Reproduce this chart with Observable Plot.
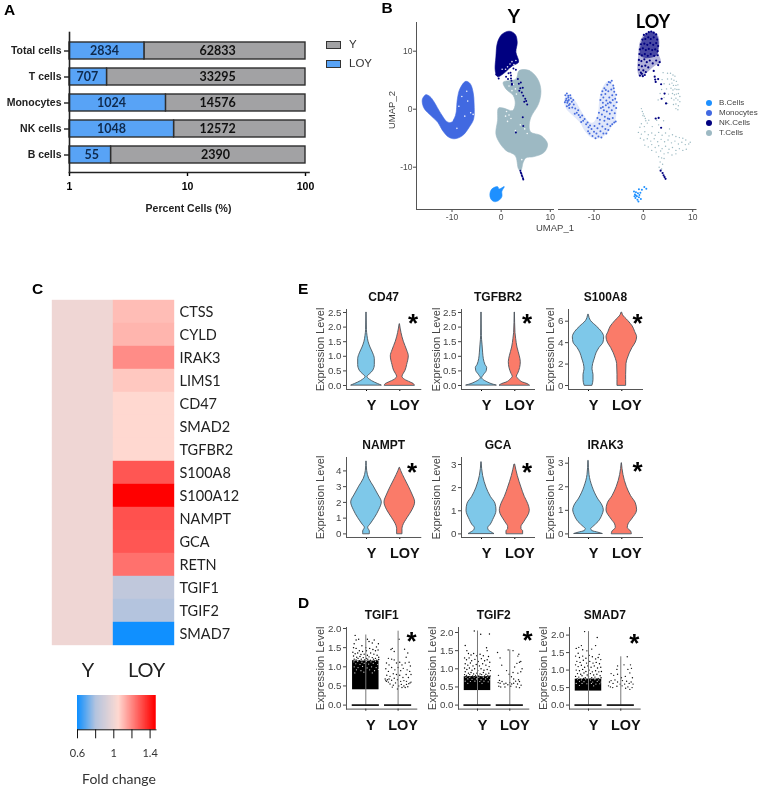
<!DOCTYPE html>
<html>
<head>
<meta charset="utf-8">
<script src="https://cdn.jsdelivr.net/npm/d3@7"></script>
<script src="https://cdn.jsdelivr.net/npm/@observablehq/plot@0.6"></script>
<style>
html,body{margin:0;padding:0;background:#fff;width:760px;height:789px;overflow:hidden}
#page{position:relative;width:760px;height:789px;overflow:hidden;filter:blur(0.35px)}
#page svg{position:absolute;background:transparent}
.t{position:absolute;white-space:nowrap;line-height:1}
</style>
</head>
<body>
<div id="page"></div>
<script>
/* ---------- Panel A ---------- */
const cellTypes = ["Total cells","T cells","Monocytes","NK cells","B cells"];
const loyCounts = [2834,707,1024,1048,55];
const yCounts = [62833,33295,14576,12572,2390];
const loyLabelAt = [1.98,1.42,2.27,2.27,1.54];
const yLabelAt = [18,18,18,18,17.3];

/* ---------- Panel B (UMAP outlines and cells, in UMAP units) ---------- */
const monoOutline = [[-16,1.8],[-15.3,2.5],[-14.5,2.2],[-13.6,1.2],[-13,0.3],[-12,-1.1],[-11.1,-2.1],[-10.2,-2.3],[-9.3,-1.1],[-8.9,1.8],[-8.4,3.5],[-7.2,4.8],[-6.3,4.4],[-5.7,2.9],[-5.5,0.9],[-5.6,-1.7],[-6.5,-3.1],[-7.85,-4.55],[-9.5,-5.1],[-10.7,-4.8],[-11.9,-3.7],[-12.9,-2.25],[-14.3,-1.1],[-15.6,0.05],[-16,0.9]];
const nkOutline = [[-0.73,11.55],[0.15,12.9],[1.64,13.45],[2.86,12.9],[3.27,11.55],[3,9.85],[3.54,8.1],[2.32,7.5],[0.42,6.1],[-0.73,5.6],[-1.2,6.65],[-1.07,9]];
const nkLoyCore = [[-0.7,10.3],[0,12.4],[1.6,13.4],[2.8,12.6],[3.1,10.5],[2.6,9.2],[0.5,8.8],[-0.6,9.2]];
const tOutline = [[3.68,6.67],[5.71,6.67],[7.41,5.23],[8.09,3.22],[7.61,0.92],[6.05,-1.39],[5.71,-3.11],[6.05,-3.97],[8.09,-4.55],[9.44,-5.99],[8.76,-7.42],[6.73,-8.17],[5.03,-8.4],[4.49,-9.15],[4,-10.6],[3.54,-10.3],[2.86,-8],[0.97,-7.1],[-0.39,-5.7],[-1.07,-4.26],[-0.73,-1.96],[-0.53,0.2],[0.42,0.2],[2.32,-0.24],[2.86,0.92],[2.46,2.35],[0.97,3.5],[0.42,4.65],[3,5.2]];
const bOutline = [[-2.29,-14.6],[-1.88,-13.75],[-0.73,-13.35],[-0.39,-13.75],[0.63,-13.35],[0.15,-14.15],[0.15,-15.07],[-0.53,-15.76],[-1.41,-15.93],[-2.09,-15.47]];
const nkStrayY = [[1.9,6.3],[2,5.8],[2,5.3],[2.1,4.9],[2.2,4.4],[2.2,4.2],[3.4,5.2],[3.6,4.4],[3.9,3.6],[3.7,3.2],[4.2,2.9],[4.5,2.3],[4.9,1.8],[4.7,1.3],[5.1,1.4],[5.3,0.8],[4.4,3.7],[4,4.6],[4.4,-1.4],[4.5,-2.9],[3,-4],[2.5,7],[3,6.8],[1.5,6.2],[1,5.6],[1.4,5.2],[-0.5,5.3],[-1,6],[3.9,-10.6],[4,-10.9],[4.1,-11.1],[4.2,-11.4],[4.3,-11.6],[4.45,-11.9],[4.5,-12.1]];
const holesY = [[1.8,7.8],[2.2,8.2],[2.6,7.7],[1.3,7.3],[1.7,6.9],[0.9,6.9],[3,8.4],[0.2,6.9],[2.5,4.3],[2.9,3.5],[1.6,4],[2.2,3.2],[3.1,2.6],[1.1,-0.4],[1.6,-1],[0.9,-1.2],[2,-1.6],[1.3,-2.1],[2.9,-3.7],[4.8,-3.4],[5.3,-4.2],[3.9,-2.7],[-10,-2],[-8.6,0.5],[-8,2.2],[-7.4,-1.2],[-6.8,1.4],[-6.2,-0.6],[-9,-3.3],[-7,3.1],[-5.7,-0.9],[4.2,-8.7]];
const monoLoy = [[-15.8,2.4],[-15.5,2.7],[-15.2,2.3],[-15.6,1.8],[-15.1,1.6],[-14.7,1.9],[-15.9,1.2],[-15.4,1.1],[-14.9,0.9],[-14.5,1.3],[-15.5,0.5],[-15,0.2],[-14.4,0.3],[-14.1,0.8],[-15.2,2],[-14.8,2.4],[-14.2,1.6],[-15.7,1.5],[-15.3,1.4],[-15.1,0.7],
[-13.8,0.1],[-13.5,-0.6],[-13.2,-0.2],[-13.1,-1],[-12.8,-1.4],[-12.4,-1.1],[-12.2,-2],[-11.9,-1.7],[-11.6,-2.6],[-11.3,-2.3],[-11.1,-3.1],[-10.8,-2.8],[-13.9,-0.8],[-12.6,-2.2],
[-11.2,-3.8],[-10.9,-4.2],[-10.5,-3.4],[-10.3,-4.6],[-10,-3.9],[-9.9,-2.9],[-9.7,-5],[-9.5,-4.2],[-9.3,-3.3],[-9.1,-4.7],[-8.9,-2.5],[-8.7,-3.8],[-8.5,-4.9],[-8.3,-3],[-8.1,-4.2],[-7.9,-2],[-7.7,-3.4],[-7.5,-4.2],[-7.3,-2.6],[-7.1,-3.6],[-6.9,-1.7],[-6.7,-2.9],
[-9.3,-1.5],[-9,-0.6],[-8.8,-1.8],[-8.6,0.2],[-8.4,-0.9],[-8.2,1.1],[-8,-0.2],[-7.8,-1.3],[-7.6,0.7],[-7.4,-0.4],[-7.2,-1.6],[-7,0.3],[-6.8,-0.8],[-6.6,1.1],[-6.4,-0.2],[-6.2,-1.5],[-6,0.6],[-5.8,-0.7],[-5.6,-2.1],[-5.5,0.2],[-6.3,-2.6],[-5.9,-2.3],
[-8.7,1.6],[-8.5,2.5],[-8.3,3.1],[-8.1,2],[-7.9,3.6],[-7.7,2.6],[-7.5,1.5],[-7.3,4.2],[-7.1,3.1],[-6.9,2],[-6.7,4.6],[-6.5,3.4],[-6.3,2.4],[-6.1,4.1],[-5.9,3],[-5.7,1.8],[-5.5,2.5],[-7,4.7],[-6.4,4.9],[-6,3.6],[-7.6,3.3],[-6.8,1.2],[-5.4,1.2],[-8.2,0.4],[-7.2,1],[-6.2,1.6]];
const nkLoy = [[0.1,12.8],[0.6,13],[1.1,13.3],[1.6,13.4],[2.1,13.2],[2.6,12.9],[-0.2,12],[0.4,12.1],[1,12.4],[1.5,12.1],[2.1,12.4],[2.8,12],[-0.5,11.2],[0.2,11.3],[0.8,11.1],[1.4,11.4],[2,11.1],[2.6,11.4],[3,10.9],[-0.7,10.3],[-0.1,10.5],[0.5,10.2],[1.1,10.4],[1.8,10.2],[2.4,10.3],[2.9,10],
[-0.8,9.5],[-0.3,9.3],[0.3,9.5],[0.9,9.2],[1.5,9.5],[2.2,9.2],[2.9,9.3],[-0.9,8.5],[-0.4,8.3],[0.2,8.6],[0.7,8.1],[1.3,8.4],[1.9,7.9],[2.6,8.4],[3.3,8.1],[-0.9,7.6],[-0.3,7.4],[0.4,7.5],[1,7.2],[3,7.6],[-0.9,6.8],[-0.5,6.3],[0,6.7],[0.5,6.4],[-0.7,5.8],[-0.1,5.7],[0.3,5.9],[-0.3,6.1],[2.1,6.6],[2.3,5.6],[2.5,4.7],[2.4,5.1],[3,5.2],[3.6,4.3],[4.3,2.7],[3.7,1.8],[4.6,1],[2.5,-1.6],[3.1,-1.5],[3.6,-3.2],[3.5,-10.6],[3.9,-11],[4.1,-11.4],[4.3,-11.7],[4.5,-12]];
const tLoy = [[4,6.3],[4.9,6.2],[5.5,6.2],[6,5.9],[6.4,5.7],[3.8,5.1],[4.9,5.2],[5.7,5.2],[6.2,5],[6.7,4.8],[4.2,4.4],[5.3,4.3],[5.8,4.5],[6.1,4.1],[6.6,4.1],[7,4.2],[3.7,3.4],[4.7,3.5],[5.6,3.6],[6,3.3],[6.4,3.5],[6.8,3.4],[7.2,3.4],[3.4,2.7],[4.2,2],[5.1,2.6],[5.9,2.7],[6.3,2.5],[6.7,2.6],[7.1,2.7],[7.4,2.2],[3,1.6],[4.9,1],[5.7,1.9],[6.2,1.6],[6.6,1.9],[7,1.6],[7.4,1.3],[6.1,0.8],[6.6,0.9],[7.1,0.6],[6.6,0.1],[7,-0.1],
[-0.4,0.1],[-0.2,-0.4],[0,-0.8],[0.2,-1.2],[0.4,-1.6],[-0.1,-1.1],[0.5,-2],[0.8,-2.4],[-0.4,-2.5],[-0.7,-3.1],[0.2,-3],[1.1,-1.9],[1.8,-3],[2.7,-1.9],[3.1,-2.7],[4.1,-2],[5.3,-3.4],[-1,-4],[-0.4,-4.3],[0.3,-3.9],[1,-4.4],[1.7,-4.1],[2.4,-4.5],[3.1,-4],[3.8,-4.5],[4.5,-4.1],[5.2,-4.6],[5.9,-4.4],[6.6,-4.7],[7.3,-4.9],[8,-5],[8.6,-5.3],[-0.6,-5],[0.1,-5.3],[0.8,-5.1],[1.5,-5.5],[2.2,-5.1],[2.9,-5.6],[3.6,-5.2],[4.3,-5.6],[5,-5.3],[5.7,-5.8],[6.4,-5.5],[7.1,-6],[7.8,-5.7],[8.5,-6.1],[9.2,-6],[9.5,-5.7],[0.3,-6.2],[1,-6.5],[1.7,-6.1],[2.4,-6.6],[3.1,-6.3],[3.8,-6.8],[4.5,-6.4],[5.2,-6.9],[5.9,-6.6],[6.6,-7.1],[7.3,-6.8],[8,-7.1],[8.7,-6.9],[1.7,-7.1],[2.6,-7.4],[3.5,-7.2],[4.2,-7.7],[5,-7.5],[5.8,-7.9],[6.6,-7.7],[3.1,-8.2],[3.7,-8.4],[4.2,-8.5],[3.4,-9.1],[3.9,-9.5],[3.2,-10],[3.7,-10.3]];
const bLoy = [[-1.9,-14.2],[-1.7,-14.7],[-1.5,-14.3],[-1.3,-15],[-1.1,-14.5],[-1.6,-15.3],[-1.2,-15.6],[-0.9,-15.2],[-1.5,-14.9],[-1,-15.9],[-0.8,-14.8],[-0.6,-14.4],[-1.8,-15],[-0.9,-13.8],[-0.3,-13.9],[0.2,-13.4],[0.6,-13.7],[-0.5,-15.5]];
const bLegend = ["B.Cells","Monocytes","NK.Cells","T.Cells"];
const bLegendColors = ["#1e90ff","#4169e1","#000080","#9db9c3"];

/* ---------- Panel C ---------- */
const genes = ["CTSS","CYLD","IRAK3","LIMS1","CD47","SMAD2","TGFBR2","S100A8","S100A12","NAMPT","GCA","RETN","TGIF1","TGIF2","SMAD7"];
const foldY = [1,1,1,1,1,1,1,1,1,1,1,1,1,1,1];
const foldLoy = [1.1,1.115,1.19,1.08,1.05,1.05,1.05,1.29,1.45,1.3,1.29,1.24,0.84,0.8,0.6];

/* ---------- Panel E violins: [expression level, half width] ---------- */
const cd47Y = [[0,.45],[.05,.35],[.1,.25],[.2,.1],[.29,.03],[.4,.12],[.5,.2],[.7,.25],[.9,.25],[1.1,.2],[1.3,.12],[1.5,.06],[1.7,.03],[1.9,.012],[2.5,.004]];
const cd47L = [[0,.45],[.05,.42],[.1,.33],[.2,.15],[.3,.08],[.4,.12],[.5,.17],[.7,.22],[1,.27],[1.2,.22],[1.5,.12],[1.8,.05],[2.1,.005]];
const tgfY = [[0,.45],[.05,.3],[.1,.2],[.2,.05],[.25,.02],[.35,.07],[.5,.16],[.6,.17],[.7,.12],[.9,.07],[1.1,.05],[1.4,.03],[1.7,.01],[2.5,.004]];
const tgfL = [[0,.45],[.05,.38],[.1,.25],[.2,.13],[.3,.06],[.4,.1],[.6,.16],[.8,.18],[1,.15],[1.3,.08],[1.6,.04],[1.8,.02],[2.5,.004]];
const s100Y = [[0,.12],[.5,.15],[1,.15],[1.5,.12],[2,.14],[2.5,.19],[3,.24],[3.5,.33],[4,.45],[4.5,.47],[5,.4],[5.5,.25],[6,.08],[6.6,.01]];
const s100L = [[0,.13],[1,.13],[2,.14],[2.5,.18],[3,.24],[3.5,.32],[4,.42],[4.5,.46],[5,.4],[5.5,.33],[6,.2],[6.6,.03],[6.8,.01]];
const namptY = [[0,.1],[.15,.1],[.38,.05],[.6,.12],[1,.25],[1.5,.38],[2,.46],[2.5,.35],[3,.22],[3.5,.08],[4,.02],[4.6,.004]];
const namptL = [[0,.08],[.3,.08],[.5,.1],[1,.23],[1.5,.38],[2,.46],[2.5,.38],[3,.27],[3.5,.15],[4,.04],[4.2,.005]];
const gcaY = [[0,.38],[.07,.3],[.15,.22],[.25,.2],[.4,.28],[.6,.35],[1,.45],[1.3,.42],[1.6,.28],[2,.15],[2.5,.05],[3.1,.004]];
const gcaL = [[0,.25],[.12,.25],[.2,.2],[.3,.2],[.5,.28],[1,.45],[1.3,.4],[1.6,.3],[2,.2],[2.5,.09],[3,.01]];
const irakY = [[0,.42],[.05,.3],[.12,.12],[.2,.08],[.3,.15],[.5,.3],[.8,.42],[1,.46],[1.2,.42],[1.5,.28],[2,.12],[2.5,.03],[3.1,.004]];
const irakL = [[0,.3],[.1,.28],[.25,.18],[.4,.2],[.6,.3],[1,.46],[1.3,.42],[1.6,.28],[2,.15],[2.5,.05],[3,.004]];

/* ---------- Panel D strips: [offset from group centre, expression level] ---------- */
const tgif1Y = [[-.33,1.82],[-.3,1.7],[-.36,1.6],[-.22,1.72],[-.12,1.55],[0,1.5],[.05,1.72],[.1,1.66],[.2,1.62],[.26,1.7],[.33,1.52],[.39,1.6],[-.38,1.5],[-.3,1.48],[-.2,1.42],[-.1,1.4],[.02,1.42],[.12,1.48],[.22,1.45],[.3,1.42],[.38,1.44],[-.4,1.38],[-.33,1.34],[-.25,1.36],[-.15,1.32],[-.05,1.33],[.05,1.3],[.15,1.36],[.25,1.33],[.35,1.3],[-.38,1.28],[-.28,1.25],[-.18,1.27],[-.08,1.24],[.02,1.22],[.1,1.26],[.2,1.24],[.3,1.22],[.4,1.25],[-.36,1.2],[-.3,1.18],[-.24,1.22],[-.14,1.2],[-.04,1.18],[.06,1.2],[.14,1.17],[.24,1.2],[.34,1.17],[.4,1.19],[-.4,1.16],[-.2,1.16],[.28,1.15]];
const tgif1L = [[-.22,1.45],[-.18,1.48],[-.12,1.4],[.03,1.72],[.2,1.46],[.3,1.36],[.25,1.25],[-.3,1.22],[-.2,1.2],[-.36,1.1],[-.28,1.05],[-.12,1.18],[-.05,1.1],[.05,1.12],[.12,1.05],[.22,1.1],[.34,1.12],[.38,1.02],[-.38,.95],[-.3,.88],[-.2,.98],[-.1,.92],[0,.98],[.08,.9],[.16,.96],[.28,.92],[.36,.88],[.4,.8],[-.35,.78],[-.25,.75],[-.15,.82],[-.05,.8],[.05,.78],[.15,.72],[.25,.8],[.32,.72],[-.4,.68],[-.38,.64],[-.36,.62],[-.33,.66],[-.3,.6],[-.28,.68],[-.2,.65],[-.12,.7],[-.02,.66],[.08,.62],[.18,.64],[.26,.62],[.33,.56],[.37,.58],[.4,.6],[-.25,.55],[-.15,.52],[-.08,.58],[.02,.5],[.1,.54],[.18,.5],[.26,.54],[.3,.48],[-.18,.47],[-.02,.42],[.12,.46],[.22,.46]];
const tgif2Y = [[-.38,1.64],[-.33,1.5],[-.28,1.42],[-.1,2.04],[.1,1.95],[.37,1.96],[.28,1.58],[.3,1.5],[-.2,1.38],[-.12,1.42],[-.02,1.36],[.08,1.4],[.18,1.36],[.34,1.34],[-.4,1.3],[-.34,1.25],[-.26,1.3],[-.18,1.22],[-.08,1.26],[.02,1.2],[.12,1.28],[.22,1.22],[.3,1.25],[.38,1.18],[-.38,1.14],[-.3,1.1],[-.22,1.16],[-.14,1.08],[-.04,1.12],[.06,1.08],[.16,1.14],[.26,1.1],[.36,1.06],[-.4,1.02],[-.33,.98],[-.25,1.02],[-.17,.96],[-.09,1],[.01,.95],[.11,1],[.2,.96],[.3,.98],[.4,.95],[-.38,.92],[-.28,.88],[-.2,.9],[-.12,.86],[-.02,.88],[.08,.86],[.18,.9],[.26,.85],[.35,.88],[-.4,.84],[-.34,.82],[-.24,.84],[-.15,.8],[-.06,.82],[.04,.8],[.13,.84],[.22,.8],[.32,.82],[.39,.8],[-.36,.79],[-.27,.78],[-.18,.78],[-.09,.78],[.01,.78],[.1,.78],[.28,.78],[.36,.78]];
const tgif2L = [[-.38,1.45],[-.3,1.3],[-.25,1.1],[-.05,1.52],[.1,1.5],[.25,1.35],[.28,1.4],[.3,1.18],[.34,1.2],[.22,1.15],[.15,1.05],[.38,1],[-.35,.82],[.34,.92],[.25,.88],[.1,.9],[-.1,.95],[-.02,.85],[.05,.78],[-.32,.68],[-.36,.62],[-.3,.6],[-.24,.65],[-.18,.58],[-.12,.6],[-.06,.56],[0,.62],[.06,.58],[.12,.6],[.18,.66],[.24,.58],[.3,.65],[.35,.55],[-.34,.52],[-.28,.5],[-.15,.5],[.03,.52],[.2,.5],[.3,.48],[.12,.72],[.27,.7]];
const smad7Y = [[-.38,1.62],[-.3,1.65],[-.22,1.7],[-.18,1.58],[-.32,1.48],[-.12,2.1],[.27,1.93],[.22,1.7],[.1,1.6],[-.05,1.55],[.33,1.45],[-.4,1.4],[-.28,1.36],[-.18,1.4],[-.08,1.34],[.02,1.42],[.12,1.38],[.22,1.32],[.3,1.36],[.38,1.3],[-.36,1.25],[-.26,1.22],[-.16,1.28],[-.06,1.2],[.04,1.25],[.14,1.2],[.24,1.22],[.34,1.18],[-.4,1.15],[-.32,1.1],[-.22,1.14],[-.12,1.08],[-.02,1.12],[.08,1.08],[.18,1.12],[.28,1.06],[.38,1.08],[-.38,1],[-.28,.98],[-.18,1.02],[-.08,.96],[.02,1],[.12,.95],[.22,.98],[.32,.95],[.4,.96],[-.34,.9],[-.24,.88],[-.14,.92],[-.04,.86],[.06,.9],[.16,.86],[.26,.88],[.36,.84],[-.4,.82],[-.3,.8],[-.2,.84],[-.1,.78],[0,.82],[.1,.78],[.2,.8],[.3,.76],[.39,.78],[-.35,.75],[-.25,.74],[-.15,.76],[-.05,.74],[.05,.75],[.15,.74],[.25,.74],[.35,.72]];
const smad7L = [[.2,1.38],[-.1,1.12],[-.12,1.02],[.1,1.15],[.3,1.15],[.33,1.05],[.22,1.02],[-.3,.9],[-.22,.85],[-.1,.88],[.02,.78],[.14,.82],[.28,.92],[.36,.78],[-.35,.66],[-.3,.7],[-.24,.62],[-.18,.72],[-.1,.66],[-.02,.6],[.05,.7],[.12,.6],[.18,.68],[.26,.62],[.32,.66],[.38,.6],[-.38,.55],[-.32,.52],[-.25,.5],[-.12,.54],[.04,.55],[.15,.48],[.22,.52],[.28,.45],[.35,.5]];
/* gaps seen in the dense part of each Y strip */
const tgif1Gaps = [[-.37,1.13],[-.25,1.14],[-.12,1.12],[.02,1.14],[.16,1.13],[.3,1.14],[-.31,1.08],[-.18,1.06],[-.05,1.09],[.09,1.07],[.23,1.09],[.37,1.06],[-.36,1],[-.24,.98],[-.1,1.01],[.04,.97],[.18,1],[.32,.98],[-.29,.92],[-.15,.9],[.12,.92],[.27,.9],[.39,.93],[-.06,.86],[.2,.84],[-.34,.84]];
const tgif2Gaps = [[-.36,.77],[-.24,.76],[-.1,.77],[.04,.76],[.18,.77],[.3,.76],[-.3,.72],[-.17,.71],[-.03,.72],[.11,.7],[.25,.72],[.38,.7],[-.38,.66],[-.22,.65],[-.08,.66],[.07,.65],[.2,.66],[.33,.64],[-.3,.6],[.14,.6]];
const smad7Gaps = [[-.34,.73],[-.22,.72],[-.08,.73],[.06,.72],[.2,.73],[.32,.72],[-.28,.68],[-.14,.67],[0,.68],[.13,.66],[.27,.68],[.39,.66],[-.38,.62],[-.2,.62],[-.05,.61],[.09,.62],[.23,.6],[.35,.61],[-.28,.56],[.16,.55]];
const groups = ["Y","LOY"];

/* ---------- helpers ---------- */
const page = document.getElementById("page");
const SANS = "'Liberation Sans',Arial,sans-serif";
const CAL = "Lato,'Noto Sans',sans-serif";
/* box = frame edges in page pixels; x.page / y.page = scale range in page pixels */
function add(box,margins,opts){
  const [l,t,r,b]=box; const [mt,mr,mb,ml]=margins;
  const {x,y,...rest}=opts;
  const {page:xp,...xs}=x, {page:yp,...ys}=y;
  const svg=Plot.plot({width:r-l+ml+mr,height:b-t+mt+mb,marginTop:mt,marginRight:mr,marginBottom:mb,marginLeft:ml,
    style:{background:"transparent",fontFamily:SANS},
    x:{...xs,axis:null,range:xp.map(v=>v-l+ml)},
    y:{...ys,axis:null,range:yp.map(v=>v-t+mt)},
    ...rest});
  svg.style.left=(l-ml)+"px"; svg.style.top=(t-mt)+"px";
  page.appendChild(svg); return svg;
}
function label(txt,x,y,o={}){
  const d=document.createElement("div"); d.className="t"; d.textContent=txt;
  d.style.left=x+"px"; d.style.top=y+"px";
  d.style.fontFamily=o.font||SANS; d.style.fontSize=(o.size||11)+"px"; d.style.fontWeight=o.weight||400; d.style.color=o.color||"#000";
  d.style.transform=`translate(${o.ax==null?-50:o.ax}%,-50%)`+(o.rot?` rotate(${o.rot}deg)`:"");
  page.appendChild(d);
}

/* ---------- letters ---------- */
[["A",4,9.5],["B",381.5,8],["C",32,289],["D",298,603],["E",298,289]].forEach(([s,x,y])=>label(s,x,y,{size:15.5,weight:700,ax:0}));

/* ---------- Panel A ---------- */
const rowsA = cellTypes.map((c,i)=>({c,loy:loyCounts[i],y:yCounts[i],pct:100*loyCounts[i]/(loyCounts[i]+yCounts[i]),lx:loyLabelAt[i],yx:yLabelAt[i]}));
add([69,32,308.5,172],[2,14,24,66],{
  x:{type:"log",domain:[1,100],page:[69,305]},
  y:{type:"band",domain:cellTypes,page:[36.3,168.2],paddingInner:.35,paddingOuter:.175,align:.5},
  marks:[
    Plot.barX(rowsA,{x1:d=>d.pct,x2:()=>100,y:"c",fill:"#a2a2a4",stroke:"#2e2e2e",strokeWidth:1.4}),
    Plot.barX(rowsA,{x1:()=>1,x2:"pct",y:"c",fill:"#58a3f6",stroke:"#2e2e2e",strokeWidth:1.4}),
    Plot.text(rowsA,{x:"lx",y:"c",text:d=>String(d.loy),fontFamily:CAL,fontWeight:700,fontSize:12.5,fill:"#0f2a4d"}),
    Plot.text(rowsA,{x:"yx",y:"c",text:d=>String(d.y),fontFamily:CAL,fontWeight:700,fontSize:12.5,fill:"#111"}),
    Plot.axisY({anchor:"left",tickSize:5,tickPadding:3,fontSize:10.5,fontWeight:700,label:null,stroke:"#222",strokeWidth:1.4,color:"#222"}),
    Plot.axisX({anchor:"bottom",ticks:[1,10,100],tickFormat:d=>String(d),tickSize:4,tickPadding:6,fontSize:10.5,fontWeight:700,label:null,strokeWidth:1.4}),
    Plot.frame({anchor:"left",stroke:"#222",strokeWidth:1.6}),
    Plot.frame({anchor:"bottom",stroke:"#222",strokeWidth:1.6})
  ]
});
label("Percent Cells (%)",188.5,208,{size:10.5,weight:700,color:"#222"});
[[40.8,"#a2a2a4","Y"],[60.3,"#58a3f6","LOY"]].forEach(([y,c,s])=>{
  const d=document.createElement("div");
  d.style.cssText=`position:absolute;left:325.5px;top:${y}px;width:13px;height:6px;background:${c};border:1.3px solid #333`;
  page.appendChild(d);
  label(s,349,y+4,{size:11.5,ax:0,color:"#333"});
});

/* ---------- Panel B ---------- */
const poly=(data,fill,o={})=>Plot.line(data,{x:d=>d[0],y:d=>d[1],fill,stroke:fill,strokeWidth:o.sw==null?0.6:o.sw,fillOpacity:o.op==null?1:o.op,strokeOpacity:o.op==null?1:o.op,curve:"catmull-rom-closed"});
const pts=(data,fill,r,o={})=>Plot.dot(data,{x:d=>d[0],y:d=>d[1],r,fill,stroke:"none",fillOpacity:o.op==null?1:o.op});
const axStyle={tickSize:3,tickPadding:1,fontSize:8.5,color:"#4a4a4a",label:null};
add([415.5,22,552.5,209],[2,8,16,28],{
  x:{domain:[-10,10],page:[451,549.3]},
  y:{domain:[-10,10],page:[166.7,50.7]},
  marks:[
    poly(monoOutline,"#4169e1"),
    poly(tOutline,"#9db9c3"),
    poly(nkOutline,"#000080"),
    poly(bOutline,"#1e90ff"),
    pts(holesY,"#ffffff",0.8,{op:.9}),
    pts(nkStrayY,"#000080",1.0),
    Plot.axisY({anchor:"left",ticks:[-10,0,10],tickFormat:d=>String(d),...axStyle}),
    Plot.axisX({anchor:"bottom",ticks:[-10,0,10],tickFormat:d=>String(d),...axStyle}),
    Plot.frame({anchor:"left",stroke:"#555"}),
    Plot.frame({anchor:"bottom",stroke:"#555"})
  ]
});
add([557.5,22,695,209],[2,8,16,4],{
  x:{domain:[-10,10],page:[593,691.7]},
  y:{domain:[-10,10],page:[166.7,50.7]},
  marks:[
    poly(monoOutline,"#4169e1",{op:.16,sw:0}),
    poly(nkOutline,"#000080",{op:.3,sw:0}),
    poly(nkLoyCore,"#000080",{op:.6,sw:0}),
    pts(tLoy,"#7fa6b2",0.7,{op:.8}),
    pts(monoLoy,"#3f66dd",1,{op:.95}),
    pts(bLoy,"#1e90ff",1),
    pts(nkLoy,"#000080",1.1),
    Plot.axisX({anchor:"bottom",ticks:[-10,0,10],tickFormat:d=>String(d),...axStyle}),
    Plot.frame({anchor:"bottom",stroke:"#555"})
  ]
});
label("Y",514,15,{size:19,weight:700,font:CAL});
label("LOY",653,21,{size:18,weight:700,font:CAL});
label("UMAP_1",555,227.5,{size:9.5,color:"#444"});
label("UMAP_2",392,110,{size:9.5,color:"#444",rot:-90});
bLegend.forEach((s,i)=>{
  const y=103.3+i*10;
  const d=document.createElement("div");
  d.style.cssText=`position:absolute;left:706px;top:${y-3}px;width:6px;height:6px;border-radius:50%;background:${bLegendColors[i]}`;
  page.appendChild(d);
  label(s,719,y,{size:8,ax:0,color:"#444"});
});

/* ---------- Panel C ---------- */
const foldColor={type:"linear",domain:[0.6,0.8,1,1.05,1.45],range:["#1090ff","#b4c4de","#efd6d4","#ffd8d0","#ff0000"]};
const cellsC=genes.flatMap((g,i)=>[{g,k:"Y",v:foldY[i]},{g,k:"LOY",v:foldLoy[i]}]);
add([51.7,297.3,174.7,649.3],[0,70,2,2],{
  x:{type:"band",domain:groups,padding:0,page:[51.7,174.7]},
  y:{type:"band",domain:genes,padding:0,page:[297.3,649.3]},
  color:foldColor,
  marks:[
    Plot.cell(cellsC,{x:"k",y:"g",fill:"v",inset:-0.2}),
    Plot.axisY({anchor:"right",tickSize:0,tickPadding:4,fontSize:14.5,fontFamily:CAL,color:"#222",label:null,stroke:"none"})
  ]
});
label("Y",88,669,{size:20,font:CAL,color:"#222"});
label("LOY",146.7,669,{size:20,font:CAL,color:"#222"});
const barSteps=d3.range(0.6,1.46,0.01);
add([77.3,695,155.8,729.3],[0,12,40,12],{
  x:{domain:[0.6,1.465],page:[77.3,155.8]},
  y:{domain:[0,1],page:[729.3,695]},
  color:foldColor,
  marks:[
    Plot.rect(barSteps,{x1:d=>d,x2:d=>Math.min(d+0.03,1.465),y1:()=>0,y2:()=>1,fill:d=>d}),
    Plot.axisX({anchor:"bottom",ticks:[.6,.8,1,1.2,1.4],tickFormat:d=>[.6,1,1.4].includes(+d.toFixed(1))?String(+d.toFixed(1)):"",tickSize:9,tickPadding:10,fontSize:11,fontFamily:CAL,color:"#333",label:null,stroke:"#111"}),
    Plot.frame({anchor:"bottom",stroke:"#111"})
  ]
});
label("Fold change",119,779,{size:14,font:CAL,color:"#333"});

/* ---------- Panels E and D shared furniture ---------- */
function furniture(title,ticks,fmt,ylabDx){
  return [
    Plot.axisY({anchor:"left",ticks,tickFormat:fmt,tickSize:3,tickPadding:2,fontSize:9.8,color:"#444",label:null}),
    Plot.axisX({anchor:"bottom",ticks:[1,2],tickFormat:()=>"",tickSize:2,label:null}),
    Plot.frame({anchor:"left",stroke:"#555"}),
    Plot.frame({anchor:"bottom",stroke:"#555"}),
    Plot.text([title],{frameAnchor:"top",lineAnchor:"middle",dy:-12,fontSize:12,fontWeight:700,fill:"#111"}),
    Plot.text(["Expression Level"],{frameAnchor:"left",textAnchor:"middle",lineAnchor:"middle",dx:-ylabDx,rotate:-90,fontSize:11,fill:"#444"}),
    Plot.text(groups,{x:(d,i)=>i+1,frameAnchor:"bottom",lineAnchor:"middle",dx:5,dy:16,fontSize:14.5,fontWeight:700,fill:"#111"})
  ];
}
function violinPanel(o){
  const side=(rows,c,fill)=>Plot.areaX(rows,{y:d=>d[0],x1:d=>c-d[1],x2:d=>c+d[1],fill,stroke:"#4a545c",strokeWidth:0.9,curve:"monotone-y"});
  add([o.left,o.top,o.left+o.w,o.top+80],[20,10,30,34],{
    x:{domain:[1,2],page:[o.left+20,o.left+53.3]},
    y:{domain:[0,o.tickTop],page:[o.y0,o.yT]},
    marks:[
      side(o.yData,1,"#7ec8e9"),
      side(o.lData,2,"#fa7b69"),
      ...furniture(o.title,o.ticks,o.fmt,o.ylabDx),
      Plot.text(["*"],{x:()=>o.ax,y:()=>o.ay,fontSize:26,fontWeight:700,fill:"#000",dy:5})
    ]
  });
}
const f1=d=>d.toFixed(1), f0=d=>String(d);
const t25=[0,.5,1,1.5,2,2.5];
violinPanel({title:"CD47",left:345.7,top:309.3,w:74.3,y0:385.3,yT:312.3,tickTop:2.5,ticks:t25,fmt:f1,ylabDx:25.7,yData:cd47Y,lData:cd47L,ax:2.4,ay:2.28});
violinPanel({title:"TGFBR2",left:461,top:309.3,w:73,y0:385.3,yT:312.3,tickTop:2.5,ticks:t25,fmt:f1,ylabDx:25.3,yData:tgfY,lData:tgfL,ax:2.37,ay:2.28});
violinPanel({title:"S100A8",left:567.7,top:309.3,w:74,y0:385.3,yT:321,tickTop:6,ticks:[0,2,4,6],fmt:f0,ylabDx:18.4,yData:s100Y,lData:s100L,ax:2.47,ay:6.2});
violinPanel({title:"NAMPT",left:345.7,top:457.3,w:74.3,y0:533.7,yT:470.7,tickTop:4,ticks:[0,1,2,3,4],fmt:f0,ylabDx:25.7,yData:namptY,lData:namptL,ax:2.37,ay:4.2});
violinPanel({title:"GCA",left:461,top:457.3,w:73,y0:533.7,yT:464.3,tickTop:3,ticks:[0,1,2,3],fmt:f0,ylabDx:25.3,yData:gcaY,lData:gcaL,ax:2.37,ay:2.85});
violinPanel({title:"IRAK3",left:567.7,top:457.3,w:74,y0:533.7,yT:463,tickTop:3,ticks:[0,1,2,3],fmt:f0,ylabDx:18.4,yData:irakY,lData:irakL,ax:2.47,ay:2.87});

function stripPanel(o){
  const ln=[[1,o.maxY],[2,o.maxL]];
  add([o.left,626.7,o.left+o.w,708.3],[20,10,30,34],{
    x:{domain:[1,2],page:[o.c1,o.c1+32.3]},
    y:{domain:[0,2],page:[704.3,704.3-o.scale*2]},
    marks:[
      Plot.rect([0],{x1:()=>1-.41,x2:()=>1+.41,y1:()=>.4,y2:()=>o.dense,fill:"#000"}),
      Plot.dot(o.gaps,{x:d=>1+d[0],y:d=>d[1],r:.6,fill:"#fff",fillOpacity:.85,stroke:"none"}),
      Plot.dot(o.yPts,{x:d=>1+d[0],y:d=>d[1],r:.7,fill:"#000",stroke:"none"}),
      Plot.dot(o.lPts,{x:d=>2+d[0],y:d=>d[1],r:.7,fill:"#111",stroke:"none"}),
      Plot.ruleX(ln,{x:d=>d[0],y1:()=>0,y2:d=>d[1],stroke:"#777",strokeWidth:1}),
      Plot.ruleY([1,2],{x1:d=>d-.42,x2:d=>d+.42,y:()=>0,stroke:"#000",strokeWidth:1.6}),
      ...furniture(o.title,[0,.5,1,1.5,2],f1,o.ylabDx),
      Plot.text(["*"],{x:()=>o.ax,y:()=>o.ay,fontSize:26,fontWeight:700,fill:"#000",dy:5})
    ]
  });
}
stripPanel({title:"TGIF1",left:345.7,w:70.3,c1:365,scale:38.3,ylabDx:25.7,dense:1.15,maxY:1.83,maxL:1.93,yPts:tgif1Y,lPts:tgif1L,gaps:tgif1Gaps,ax:2.42,ay:1.78});
stripPanel({title:"TGIF2",left:457.7,w:70.3,c1:476.7,scale:36.3,ylabDx:26,dense:.78,maxY:2.04,maxL:1.52,yPts:tgif2Y,lPts:tgif2L,gaps:tgif2Gaps,ax:2.55,ay:1.9});
stripPanel({title:"SMAD7",left:569.3,w:70.7,c1:588.3,scale:35,ylabDx:26,dense:.74,maxY:2.1,maxL:1.38,yPts:smad7Y,lPts:smad7L,gaps:smad7Gaps,ax:2.42,ay:1.9});
</script>
</body>
</html>
